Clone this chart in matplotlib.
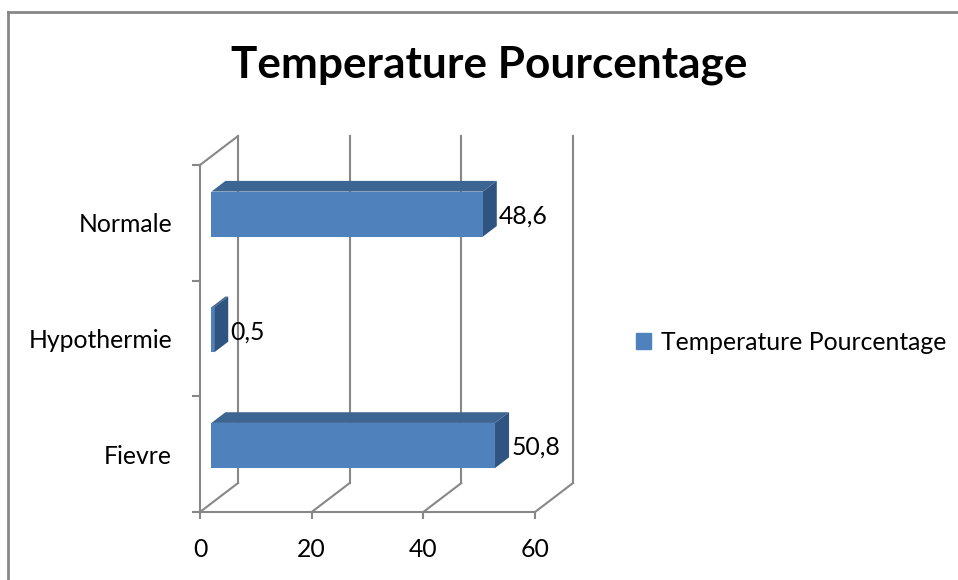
import matplotlib.pyplot as plt
from matplotlib.patches import Patch
from matplotlib.lines import Line2D

# data
categories = ['Fievre', 'Hypothermie', 'Normale']
values = [50.8, 0.5, 48.6]
x_ticks = [0, 20, 40, 60]
title = 'Temperature Pourcentage'

plt.rcParams['font.family'] = ['Lato', 'DejaVu Sans']

front_col = '#4F81BD'
top_col = '#3D6591'
side_col = '#2F5482'
grid_col = '#878787'
fs = 17.8

fig = plt.figure(figsize=(9.58, 5.8), dpi=100)
ax = fig.add_axes([200 / 958, 68 / 580, 335 / 958, 347 / 580])
ax.set_xlim(0, 60)
ax.set_ylim(0, len(categories))
ax.patch.set_visible(False)

# fake 3D: depth offset of the back wall in data units
ddx, ddy = 6.8, 0.25
d0, d1 = 0.3, 0.67
ymax = len(categories)

# back wall gridlines + floor diagonals
for t in x_ticks:
    ax.plot([t + ddx, t + ddx], [ddy, ymax + ddy], color=grid_col, lw=1.5, clip_on=False, zorder=1)
    ax.plot([t, t + ddx], [0, ddy], color=grid_col, lw=1.5, clip_on=False, zorder=1)
# top edge of left wall
ax.plot([0, ddx], [ymax, ymax + ddy], color=grid_col, lw=1.5, clip_on=False, zorder=1)

# spines / ticks
for s in ['top', 'right']:
    ax.spines[s].set_visible(False)
for s in ['left', 'bottom']:
    ax.spines[s].set_color(grid_col)
    ax.spines[s].set_linewidth(1.5)

ax.set_xticks(x_ticks)
ax.set_xticklabels([str(t) for t in x_ticks])
ax.set_yticks(range(ymax + 1))
ax.set_yticklabels([])
ax.set_yticks([i + 0.5 for i in range(ymax)], minor=True)
ax.set_yticklabels(categories, minor=True)
ax.tick_params(axis='x', direction='out', length=5, width=1.5, color=grid_col,
               labelsize=fs, pad=13.5)
ax.tick_params(axis='y', which='major', direction='out', length=6, width=1.5, color=grid_col)
ax.tick_params(axis='y', which='minor', length=0, labelsize=fs, pad=20)

# bars
h = 0.39
for i, v in enumerate(values):
    yb = i + 0.5 - h / 2
    yt = i + 0.5 + h / 2
    ox0, oy0 = d0 * ddx, d0 * ddy
    ox1, oy1 = d1 * ddx, d1 * ddy
    # top face
    ax.fill([ox0, v + ox0, v + ox1, ox1], [yt + oy0, yt + oy0, yt + oy1, yt + oy1],
            color=top_col, lw=0, clip_on=False, zorder=3)
    # side face
    ax.fill([v + ox0, v + ox1, v + ox1, v + ox0], [yb + oy0, yb + oy1, yt + oy1, yt + oy0],
            color=side_col, lw=0, clip_on=False, zorder=3)
    # front face
    ax.fill([ox0, v + ox0, v + ox0, ox0], [yb + oy0, yb + oy0, yt + oy0, yt + oy0],
            color=front_col, lw=0, clip_on=False, zorder=4)
    ax.annotate(str(v).replace('.', ','), (v + ox1, i + 0.5 + oy0), xytext=(1.5, -1.5),
                textcoords='offset points', va='center', ha='left', fontsize=fs,
                annotation_clip=False, zorder=5)

fig.text(489 / 958, 1 - 78 / 580, title, ha='center', va='baseline',
         fontsize=31.8, fontweight='bold')

fig.legend(handles=[Patch(color=front_col, label=title)], loc='center left',
           bbox_to_anchor=(636 / 958, 1 - 342 / 580), frameon=False,
           handlelength=0.62, handleheight=0.62, handletextpad=0.4,
           borderpad=0, borderaxespad=0, fontsize=fs)

# chart border (cropped on the right and bottom)
fig.add_artist(Line2D([8 / 958, 8 / 958], [0, 1 - 12 / 580], color='#878787', lw=2,
                      transform=fig.transFigure))
fig.add_artist(Line2D([8 / 958, 1], [1 - 12 / 580, 1 - 12 / 580], color='#878787', lw=2,
                      transform=fig.transFigure))

fig.savefig('out.png', dpi=100)
